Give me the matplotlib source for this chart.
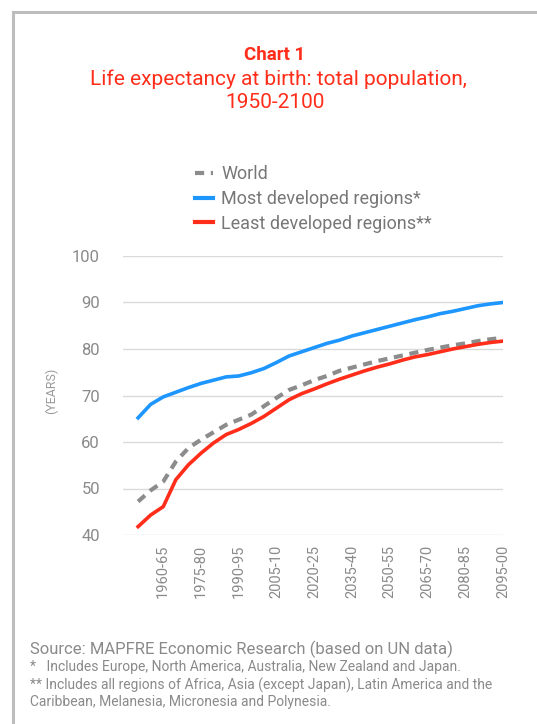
import matplotlib
matplotlib.use("Agg")
import matplotlib.pyplot as plt
from matplotlib.lines import Line2D
from matplotlib.patches import Rectangle

plt.rcParams['font.family'] = ['Roboto', 'DejaVu Sans']

# Five-year periods 1950-55 ... 2095-2100
periods = ["1950-55", "1955-60", "1960-65", "1965-70", "1970-75", "1975-80",
           "1980-85", "1985-90", "1990-95", "1995-00", "2000-05", "2005-10",
           "2010-15", "2015-20", "2020-25", "2025-30", "2030-35", "2035-40",
           "2040-45", "2045-50", "2050-55", "2055-60", "2060-65", "2065-70",
           "2070-75", "2075-80", "2080-85", "2085-90", "2090-95", "2095-00"]

world = [47.2, 49.6, 51.5, 55.8, 58.7, 60.5, 62.1, 63.7, 64.8, 65.9,
         67.7, 69.5, 71.2, 72.2, 73.3, 74.2, 75.3, 76.0, 76.7, 77.4,
         78.0, 78.6, 79.2, 79.8, 80.3, 80.8, 81.2, 81.7, 82.1, 82.4]

most_developed = [65.2, 68.1, 69.7, 70.7, 71.7, 72.6, 73.3, 74.0, 74.2, 74.9,
                  75.8, 77.1, 78.5, 79.4, 80.3, 81.2, 81.9, 82.8, 83.5, 84.2,
                  84.9, 85.6, 86.3, 86.9, 87.6, 88.1, 88.7, 89.3, 89.7, 90.0]

least_developed = [41.8, 44.3, 46.1, 51.9, 55.1, 57.6, 59.8, 61.6, 62.7, 64.0,
                   65.5, 67.3, 69.1, 70.4, 71.4, 72.5, 73.5, 74.4, 75.3, 76.1,
                   76.8, 77.6, 78.3, 78.8, 79.4, 80.0, 80.5, 81.0, 81.4, 81.7]

yticks = [40, 50, 60, 70, 80, 90, 100]

RED = "#FF2D1A"
BLUE = "#1E96FF"
GRAY = "#8C8C8C"
TEXT = "#8A8A8A"

fig = plt.figure(figsize=(5.37, 7.24), dpi=100)

# Outer frame
fig.patches.append(Rectangle((13 / 537, -0.05), 1.2, 1 - 12 / 724 + 0.05,
                             transform=fig.transFigure, fill=False,
                             edgecolor="#BDBDBD", linewidth=2.2))

# Titles
fig.text(0.512, 1 - 55 / 724, "Chart 1", ha="center", va="center",
         color=RED, fontsize=13.5, fontweight="bold")
fig.text(0.518, 1 - 79 / 724, "Life expectancy at birth: total population,",
         ha="center", va="center", color=RED, fontsize=15)
fig.text(0.512, 1 - 102 / 724, "1950-2100", ha="center", va="center",
         color=RED, fontsize=15)

ax = fig.add_axes([123 / 537, 1 - 535 / 724, (503 - 123) / 537, (535 - 256) / 724])
x = list(range(len(periods)))

ax.plot(x, world, color=GRAY, linewidth=3, dashes=(2.2, 1.6), zorder=3)
ax.plot(x, most_developed, color=BLUE, linewidth=2.6, zorder=4)
ax.plot(x, least_developed, color=RED, linewidth=2.6, zorder=4)

ax.set_xlim(-1.2, 29)
ax.set_ylim(40, 100)
ax.set_yticks(yticks)
ax.set_yticklabels([str(v) for v in yticks], fontsize=12, color=TEXT)
ax.grid(axis="y", color="#DADADA", linewidth=1)
ax.set_axisbelow(True)

tick_idx = list(range(2, len(periods), 3))
ax.set_xticks(tick_idx)
ax.set_xticklabels([periods[i] for i in tick_idx], rotation=90,
                   fontsize=10.5, color=TEXT)
ax.tick_params(axis="both", length=0)
ax.tick_params(axis="y", pad=16.5)
ax.tick_params(axis="x", pad=7)
for s in ax.spines.values():
    s.set_visible(False)

ax.set_ylabel("(YEARS)", fontsize=9, color="#9A9A9A")
ax.yaxis.set_label_coords(-0.171, 0.516)

# Legend
handles = [Line2D([], [], color=GRAY, linewidth=3, dashes=(2.2, 1.6)),
           Line2D([], [], color=BLUE, linewidth=3),
           Line2D([], [], color=RED, linewidth=3)]
labels = ["World", "Most developed regions*", "Least developed regions**"]
fig.legend(handles, labels, loc="upper left",
           bbox_to_anchor=(186 / 537, 1 - 156 / 724), frameon=False,
           fontsize=13, labelcolor="#777777", handlelength=1.0,
           handletextpad=0.45, labelspacing=0.38, borderpad=0)

# Footer notes
fig.text(30 / 537, 1 - 649 / 724, "Source: MAPFRE Economic Research (based on UN data)",
         fontsize=12, color=TEXT, va="center")
fig.text(30 / 537, 1 - 667 / 724,
         "*   Includes Europe, North America, Australia, New Zealand and Japan.",
         fontsize=10, color=TEXT, va="center")
fig.text(30 / 537, 1 - 685 / 724,
         "** Includes all regions of Africa, Asia (except Japan), Latin America and the",
         fontsize=10, color=TEXT, va="center")
fig.text(30 / 537, 1 - 702 / 724,
         "Caribbean, Melanesia, Micronesia and Polynesia.",
         fontsize=10, color=TEXT, va="center")

fig.savefig("out.png", dpi=100, facecolor="white")
